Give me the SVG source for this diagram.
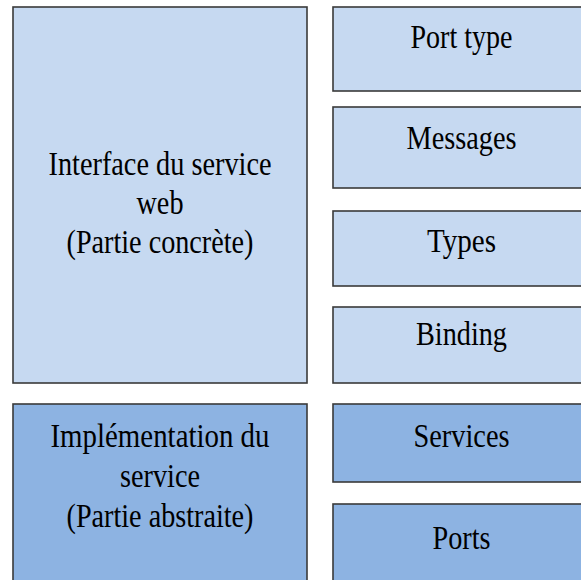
<svg xmlns="http://www.w3.org/2000/svg" width="581" height="580" viewBox="0 0 581 580">
<style>
.light{fill:#C6D9F1;stroke:#3a3a3a;stroke-width:1.6}
.dark{fill:#8DB3E2;stroke:#3a3a3a;stroke-width:1.6}
text{font-family:"Liberation Serif","Times New Roman",serif;font-size:33px;fill:#000;text-anchor:middle}
</style>
<rect width="581" height="580" fill="#ffffff"/>
<g id="connectors"/>
<g id="interface">
<rect class="light" x="13" y="7" width="294" height="376"/>
<text x="160" y="175" textLength="223" lengthAdjust="spacingAndGlyphs">Interface du service</text>
<text x="160" y="214" textLength="47" lengthAdjust="spacingAndGlyphs">web</text>
<text x="160" y="253" textLength="187" lengthAdjust="spacingAndGlyphs">(Partie concrète)</text>
</g>
<g id="implementation">
<rect class="dark" x="13" y="404" width="294" height="190"/>
<text x="160" y="447" textLength="219" lengthAdjust="spacingAndGlyphs">Implémentation du</text>
<text x="160" y="487" textLength="80" lengthAdjust="spacingAndGlyphs">service</text>
<text x="160" y="527" textLength="187" lengthAdjust="spacingAndGlyphs">(Partie abstraite)</text>
</g>
<g id="porttype">
<rect class="light" x="333" y="7" width="260" height="84"/>
<text x="461.5" y="48" textLength="102" lengthAdjust="spacingAndGlyphs">Port type</text>
</g>
<g id="messages">
<rect class="light" x="333" y="107" width="260" height="81"/>
<text x="461.5" y="149" textLength="110" lengthAdjust="spacingAndGlyphs">Messages</text>
</g>
<g id="types">
<rect class="light" x="333" y="211" width="260" height="75"/>
<text x="461.5" y="252" textLength="69" lengthAdjust="spacingAndGlyphs">Types</text>
</g>
<g id="binding">
<rect class="light" x="333" y="307" width="260" height="76"/>
<text x="461.5" y="345" textLength="91" lengthAdjust="spacingAndGlyphs">Binding</text>
</g>
<g id="services">
<rect class="dark" x="333" y="404" width="260" height="78"/>
<text x="461.5" y="447" textLength="96" lengthAdjust="spacingAndGlyphs">Services</text>
</g>
<g id="ports">
<rect class="dark" x="333" y="504" width="260" height="90"/>
<text x="461.5" y="549" textLength="58" lengthAdjust="spacingAndGlyphs">Ports</text>
</g>
</svg>
